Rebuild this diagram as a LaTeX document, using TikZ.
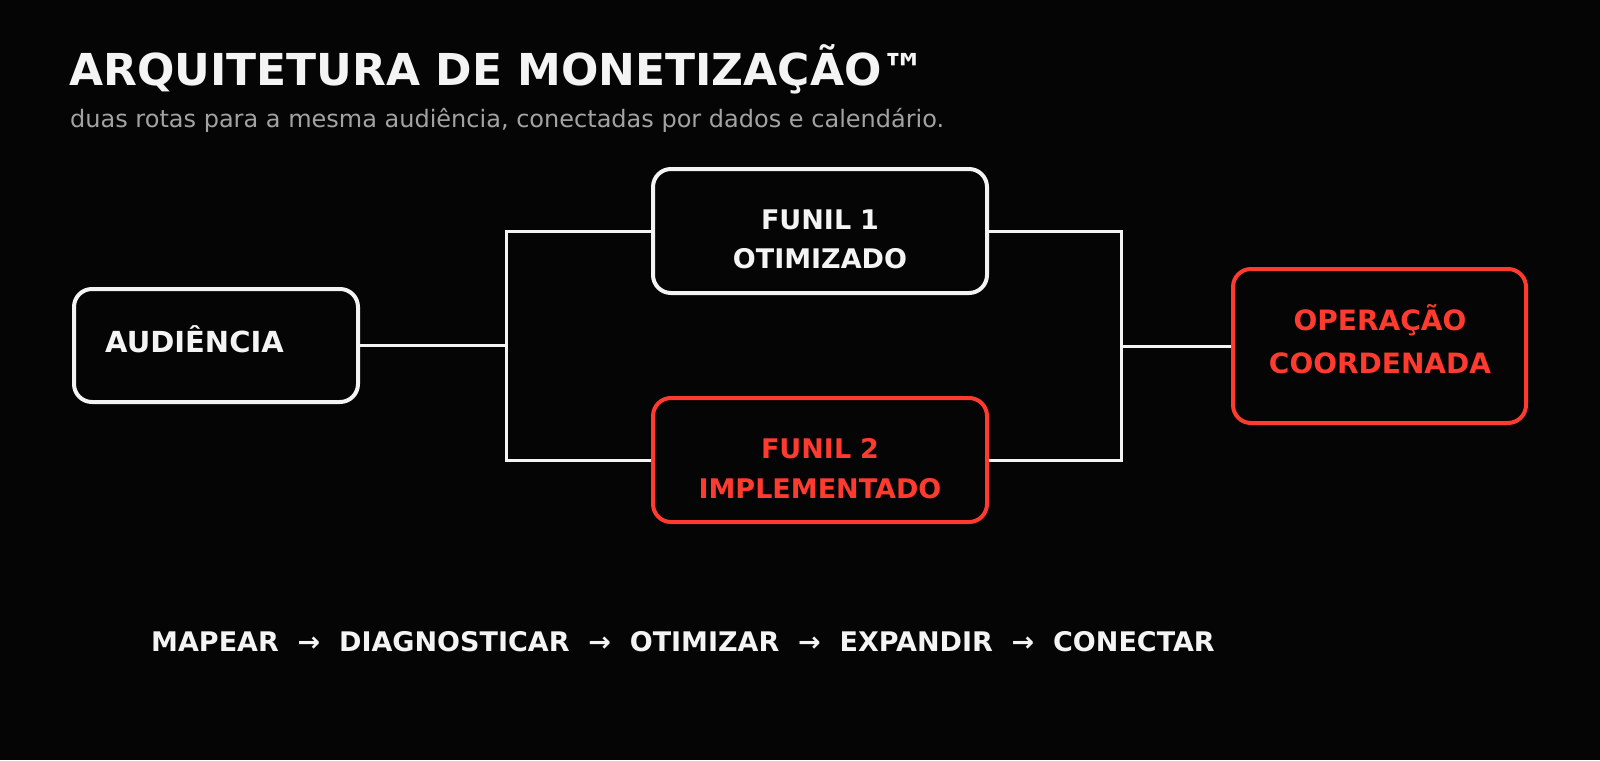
\documentclass[tikz,border=0pt]{standalone}
\usepackage{fontspec}
\setmainfont{DejaVu Sans}
\definecolor{bg}{HTML}{050505}
\definecolor{ink}{HTML}{F4F4F4}
\definecolor{accent}{HTML}{FF3B30}
\definecolor{muted}{HTML}{A3A3A3}
\begin{document}
\begin{tikzpicture}[x=1pt,y=-1pt,
    box/.style={draw=#1, line width=4pt, rounded corners=18pt, inner sep=0pt},
    boxtext/.style={text=#1, font=\bfseries\fontsize{27}{39.5}\selectfont, text width=340pt, align=center, anchor=base, inner sep=0pt},
    plain/.style={anchor=base west, inner sep=0pt},
    link/.style={draw=ink, line width=3pt}]
                \useasboundingbox (0,0) rectangle (1600,760);
                \fill[bg] (0,0) rectangle (1600,760);

                \node[plain, text=ink, font=\bfseries\fontsize{44}{50}\selectfont] (title) at (69,85) {ARQUITETURA DE MONETIZAÇÃO™};
                \node[plain, text=muted, font=\fontsize{24}{28}\selectfont] (subtitle) at (70,127) {duas rotas para a mesma audiência, conectadas por dados e calendário.};

                \node[box=ink, minimum width=284pt, minimum height=113pt] (aud) at (216,345.5) {};
                \node[box=ink, minimum width=334pt, minimum height=124pt] (f1) at (820,231) {};
                \node[box=accent, minimum width=334pt, minimum height=124pt] (f2) at (820,460) {};
                \node[box=accent, minimum width=293pt, minimum height=154pt] (op) at (1379.5,346) {};

                \node[plain, text=ink, font=\bfseries\fontsize{29}{34}\selectfont] (audtext) at (105,352) {AUDIÊNCIA};
                \node[boxtext=ink] (f1text) at (820,229) {FUNIL 1\\OTIMIZADO};
                \node[boxtext=accent] (f2text) at (820,458.5) {FUNIL 2\\IMPLEMENTADO};
                \node[boxtext=accent, font=\bfseries\fontsize{28}{43}\selectfont] (optext) at (1380,330) {OPERAÇÃO\\COORDENADA};

                \coordinate (split) at (506,345.5);
                \coordinate (join) at (1121,346);
                \draw[link] (aud.east) -- (split);
                \draw[link] (f1.west) -| (split);
                \draw[link] (f2.west) -| (split);
                \draw[link] (f1.east) -| (join);
                \draw[link] (f2.east) -| (join);
                \draw[link] (join) -- (op.west);

                \node[plain, text=ink, font=\bfseries\fontsize{27}{32}\selectfont] (steps) at (151,651) {MAPEAR~~→~~DIAGNOSTICAR~~→~~OTIMIZAR~~→~~EXPANDIR~~→~~CONECTAR};
            \end{tikzpicture}
\end{document}
